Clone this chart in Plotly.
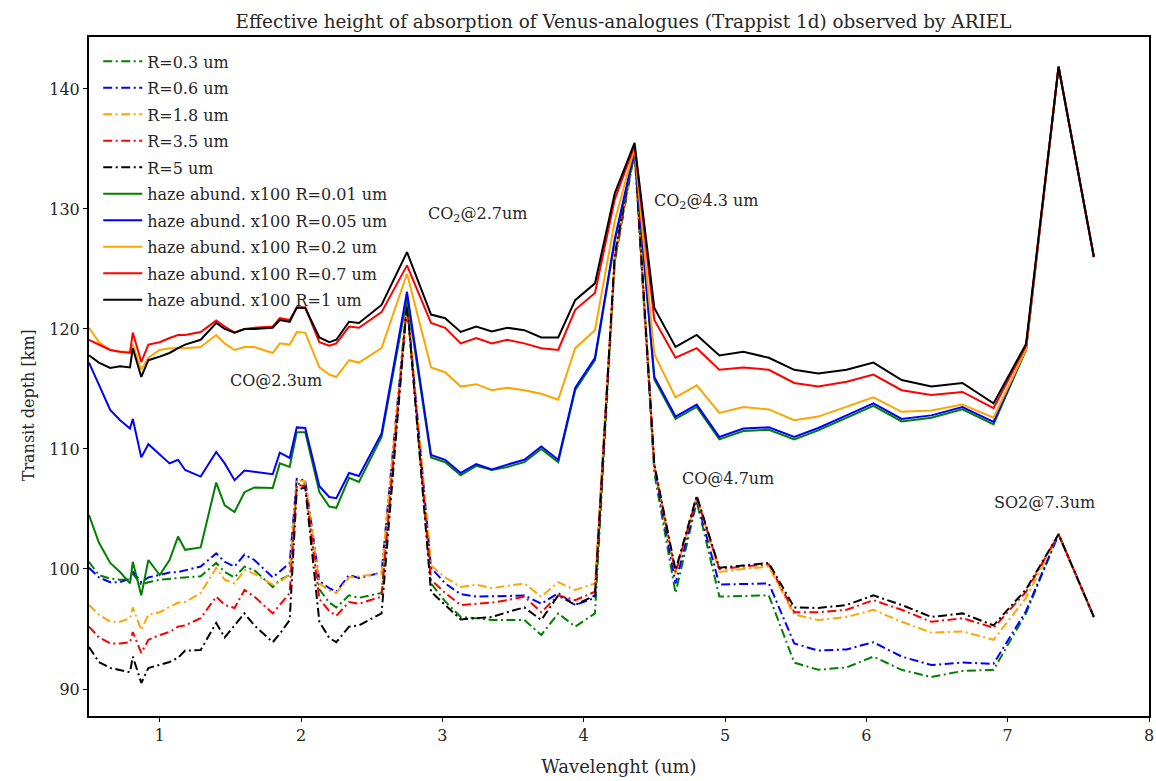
import plotly.graph_objects as go

# Wavelength grid (um)
wavelength = [0.50, 0.57, 0.65, 0.72, 0.79, 0.81, 0.87, 0.92, 1.00, 1.07,
              1.13, 1.18, 1.29, 1.40, 1.46, 1.53, 1.60, 1.67, 1.80, 1.85,
              1.92, 1.97, 2.03, 2.13, 2.20, 2.25, 2.34, 2.41, 2.57, 2.75,
              2.92, 3.02, 3.13, 3.24, 3.35, 3.46, 3.58, 3.70, 3.82, 3.94,
              4.08, 4.22, 4.36, 4.50, 4.65, 4.80, 4.96, 5.13, 5.31, 5.49,
              5.66, 5.86, 6.05, 6.25, 6.46, 6.68, 6.90, 7.13, 7.36, 7.61]

# Cloud particle radius runs (transit depth, km)
r_03 = [100.6, 99.5, 99.2, 99.1, 99.1, 99.6, 98.7, 98.9, 99.1, 99.15,
        99.25, 99.3, 99.4, 100.5, 99.75, 99.3, 100.2, 99.9, 98.5, 99.1,
        99.5, 107.1, 107.1, 98.3, 97.2, 96.8, 97.8, 97.6, 98.0, 122.1,
        98.8, 97.3, 96.0, 95.9, 95.75, 95.75, 95.75, 94.5, 96.3, 95.2,
        96.3, 125.6, 134.7, 108.0, 98.0, 105.6, 97.7, 97.75, 97.8, 92.2,
        91.6, 91.8, 92.7, 91.6, 91.0, 91.5, 91.6, 96.3, 102.9, 96.0]
r_06 = [100.1, 99.3, 98.9, 98.9, 99.2, 99.8, 98.9, 99.3, 99.5, 99.7,
        99.75, 99.9, 100.2, 101.3, 100.6, 100.2, 101.2, 100.75, 99.3, 99.8,
        100.5, 107.5, 107.4, 99.0, 98.4, 98.1, 99.5, 99.25, 99.7, 122.3,
        100.1, 98.8, 97.9, 97.7, 97.7, 97.75, 97.8, 97.1, 98.0, 97.0,
        97.6, 125.8, 134.9, 108.5, 98.8, 105.8, 98.7, 98.75, 98.8, 93.8,
        93.2, 93.3, 93.9, 92.7, 92.0, 92.2, 92.1, 96.5, 102.9, 96.0]
r_18 = [97.0, 96.2, 95.6, 95.6, 95.9, 96.8, 94.9, 96.2, 96.4, 96.8,
        97.2, 97.25, 98.0, 100.1, 99.1, 98.8, 99.9, 99.6, 98.7, 98.9,
        99.6, 107.4, 107.3, 98.8, 98.2, 98.0, 99.3, 99.4, 99.6, 122.3,
        100.3, 99.3, 98.5, 98.7, 98.4, 98.6, 98.8, 97.7, 98.9, 98.25,
        98.8, 125.9, 135.0, 108.6, 99.6, 106.0, 99.75, 100.0, 100.2, 96.2,
        95.75, 96.0, 96.6, 95.6, 94.7, 94.8, 94.1, 97.6, 102.9, 96.0]
r_35 = [95.2, 94.3, 93.8, 93.8, 93.9, 94.75, 93.0, 94.1, 94.5, 94.75,
        95.2, 95.3, 95.9, 97.7, 97.0, 96.75, 98.25, 97.7, 96.3, 97.0,
        98.0, 107.0, 106.9, 97.5, 96.5, 96.1, 97.25, 97.1, 97.7, 122.2,
        99.1, 98.0, 97.0, 97.1, 97.2, 97.4, 97.7, 96.4, 97.8, 97.4,
        98.1, 126.0, 135.1, 108.6, 99.7, 106.0, 100.0, 100.2, 100.4, 96.4,
        96.4, 96.6, 97.4, 96.6, 95.6, 95.9, 95.1, 98.1, 102.9, 96.0]
r_5 = [93.5, 92.25, 91.75, 91.6, 91.4, 92.7, 90.5, 91.75, 92.0, 92.25,
       92.6, 93.2, 93.25, 95.5, 94.3, 95.3, 96.3, 95.3, 93.9, 94.6,
       95.75, 106.6, 106.8, 95.6, 94.25, 93.9, 95.2, 95.3, 96.3, 122.2,
       98.1, 97.0, 95.8, 95.9, 96.0, 96.4, 96.8, 95.75, 97.8, 97.0,
       97.8, 126.2, 135.2, 108.7, 99.9, 106.1, 100.1, 100.3, 100.5, 96.8,
       96.75, 97.0, 97.8, 97.0, 96.0, 96.3, 95.3, 98.3, 102.9, 96.0]

# Haze abundance x100 runs (transit depth, km)
haze_001 = [104.5, 102.2, 100.5, 99.75, 98.8, 100.6, 97.8, 100.75, 99.5, 100.75,
            102.7, 101.6, 101.8, 107.2, 105.3, 104.75, 106.4, 106.8, 106.75, 108.8,
            108.5, 111.4, 111.4, 106.4, 105.2, 105.1, 107.6, 107.25, 111.0, 122.6,
            109.3, 108.9, 107.8, 108.6, 108.25, 108.5, 108.9, 110.0, 108.9, 114.9,
            117.4, 127.3, 134.7, 115.8, 112.5, 113.5, 110.8, 111.5, 111.6, 110.8,
            111.55, 112.6, 113.6, 112.3, 112.6, 113.3, 112.05, 118.3, 141.85, 126.0]
haze_005 = [117.2, 115.3, 113.25, 112.4, 111.7, 112.5, 109.3, 110.4, 109.5, 108.8,
            109.1, 108.25, 107.7, 109.75, 108.8, 107.4, 108.2, 108.1, 107.9, 109.7,
            109.25, 111.8, 111.75, 106.9, 106.0, 105.9, 108.0, 107.75, 111.3, 123.1,
            109.5, 109.1, 108.0, 108.75, 108.3, 108.7, 109.1, 110.2, 109.1, 115.1,
            117.6, 127.5, 134.9, 116.0, 112.7, 113.7, 111.0, 111.7, 111.8, 111.0,
            111.75, 112.8, 113.8, 112.5, 112.8, 113.5, 112.25, 118.3, 141.85, 126.0]
haze_02 = [120.1, 118.9, 118.25, 118.1, 118.1, 118.7, 116.6, 117.6, 118.25, 118.4,
           118.4, 118.4, 118.5, 119.5, 118.8, 118.25, 118.5, 118.5, 118.0, 118.8,
           118.7, 119.75, 119.7, 116.8, 116.2, 116.0, 117.4, 117.2, 118.4, 124.6,
           116.8, 116.4, 115.2, 115.4, 114.9, 115.1, 114.9, 114.6, 114.1, 118.4,
           119.9, 129.0, 135.1, 117.9, 114.3, 115.3, 113.0, 113.5, 113.3, 112.4,
           112.7, 113.5, 114.3, 113.1, 113.2, 113.7, 112.6, 118.3, 141.85, 126.0]
haze_07 = [119.1, 118.7, 118.25, 118.1, 118.0, 119.7, 117.25, 118.7, 118.9, 119.25,
           119.5, 119.5, 119.75, 120.7, 120.2, 119.7, 120.0, 120.1, 120.2, 120.9,
           120.75, 121.75, 121.8, 118.9, 118.6, 118.8, 120.2, 120.1, 121.4, 125.3,
           120.5, 120.1, 118.8, 119.25, 118.8, 119.1, 118.8, 118.4, 118.25, 121.6,
           123.0, 130.8, 135.3, 120.75, 117.6, 118.4, 116.6, 116.8, 116.6, 115.5,
           115.2, 115.6, 116.2, 114.9, 114.5, 114.75, 113.4, 118.6, 141.85, 126.0]
haze_1 = [117.8, 117.2, 116.75, 116.9, 116.8, 118.4, 116.0, 117.4, 117.7, 118.0,
          118.4, 118.7, 119.1, 120.5, 120.0, 119.7, 120.0, 120.0, 120.1, 120.75,
          120.6, 121.8, 121.75, 119.3, 118.9, 119.1, 120.6, 120.5, 122.0, 126.4,
          121.2, 120.9, 119.75, 120.2, 119.8, 120.1, 119.9, 119.3, 119.3, 122.4,
          123.8, 131.3, 135.5, 121.75, 118.5, 119.5, 117.8, 118.1, 117.6, 116.6,
          116.3, 116.6, 117.2, 115.75, 115.2, 115.5, 113.8, 118.75, 141.85, 126.0]

series_names = ["R=0.3 um", "R=0.6 um", "R=1.8 um", "R=3.5 um", "R=5 um",
                "haze abund. x100 R=0.01 um", "haze abund. x100 R=0.05 um",
                "haze abund. x100 R=0.2 um", "haze abund. x100 R=0.7 um",
                "haze abund. x100 R=1 um"]
series_values = [r_03, r_06, r_18, r_35, r_5,
                 haze_001, haze_005, haze_02, haze_07, haze_1]
series_colors = ["#008000", "#0000ff", "#ffa500", "#ff0000", "#000000"] * 2

# Absorption band labels
band_labels = ["CO@2.3um", "CO<sub>2</sub>@2.7um", "CO<sub>2</sub>@4.3 um",
               "CO@4.7um", "SO2@7.3um"]
band_x = [1.82, 3.25, 4.87, 5.02, 7.26]
band_y = [115.67, 129.5, 130.6, 107.5, 105.5]

FONT = "DejaVu Serif"
TEXT = "#262626"

fig = go.Figure()
for i, (name, vals, color) in enumerate(zip(series_names, series_values, series_colors)):
    dash = "9px,3.5px,2px,3.5px" if i < 5 else "solid"
    fig.add_trace(go.Scatter(
        x=wavelength, y=vals, mode="lines", name=name, legendgroup=name,
        line=dict(color=color, width=2, dash=dash),
    ))

for txt, bx, by in zip(band_labels, band_x, band_y):
    fig.add_annotation(x=bx, y=by, text=txt, showarrow=False,
                       font=dict(family=FONT, size=16, color=TEXT),
                       xanchor="center", yanchor="middle")

# Vertical axis title placed by hand
fig.add_annotation(x=28, xref="paper", xanchor="center", y=405, yref="paper",
                   text="Transit depth [km]", textangle=-90, showarrow=False,
                   font=dict(family=FONT, size=16, color=TEXT))
fig.update_annotations(selector=dict(text="Transit depth [km]"),
                       x=(28 - 89) / 1065, y=(716 - 405) / 679, yanchor="middle")

axis_common = dict(showline=True, mirror=True, linecolor="black", linewidth=2,
                   showgrid=False, zeroline=False, ticks="outside", ticklen=4,
                   tickcolor="black", ticklabeloverflow="allow",
                   tickfont=dict(family=FONT, size=16, color=TEXT))

fig.update_layout(
    width=1156, height=781, autosize=False,
    margin=dict(l=89, r=2, t=37, b=65),
    paper_bgcolor="white", plot_bgcolor="white",
    title=dict(text="Effective height of absorption of Venus-analogues (Trappist 1d) observed by ARIEL",
               x=(626 - 89) / 1065, xref="paper", xanchor="center",
               y=1 - 22 / 781, yref="container", yanchor="middle",
               font=dict(family=FONT, size=18.4, color=TEXT)),
    xaxis=dict(range=[0.5, 8.0], tickvals=[1, 2, 3, 4, 5, 6, 7, 8],
               title=dict(text="Wavelenght (um)", standoff=16,
                          font=dict(family=FONT, size=18, color=TEXT)),
               **axis_common),
    yaxis=dict(range=[87.75, 144.33], tickvals=[90, 100, 110, 120, 130, 140],
               **axis_common),
    legend=dict(x=0.0087, y=0.989, xanchor="left", yanchor="top",
                bgcolor="rgba(255,255,255,0)", borderwidth=0,
                font=dict(family=FONT, size=16, color=TEXT),
                itemwidth=39, tracegroupgap=2.7),
    showlegend=True,
)

fig.write_html("out.html")
